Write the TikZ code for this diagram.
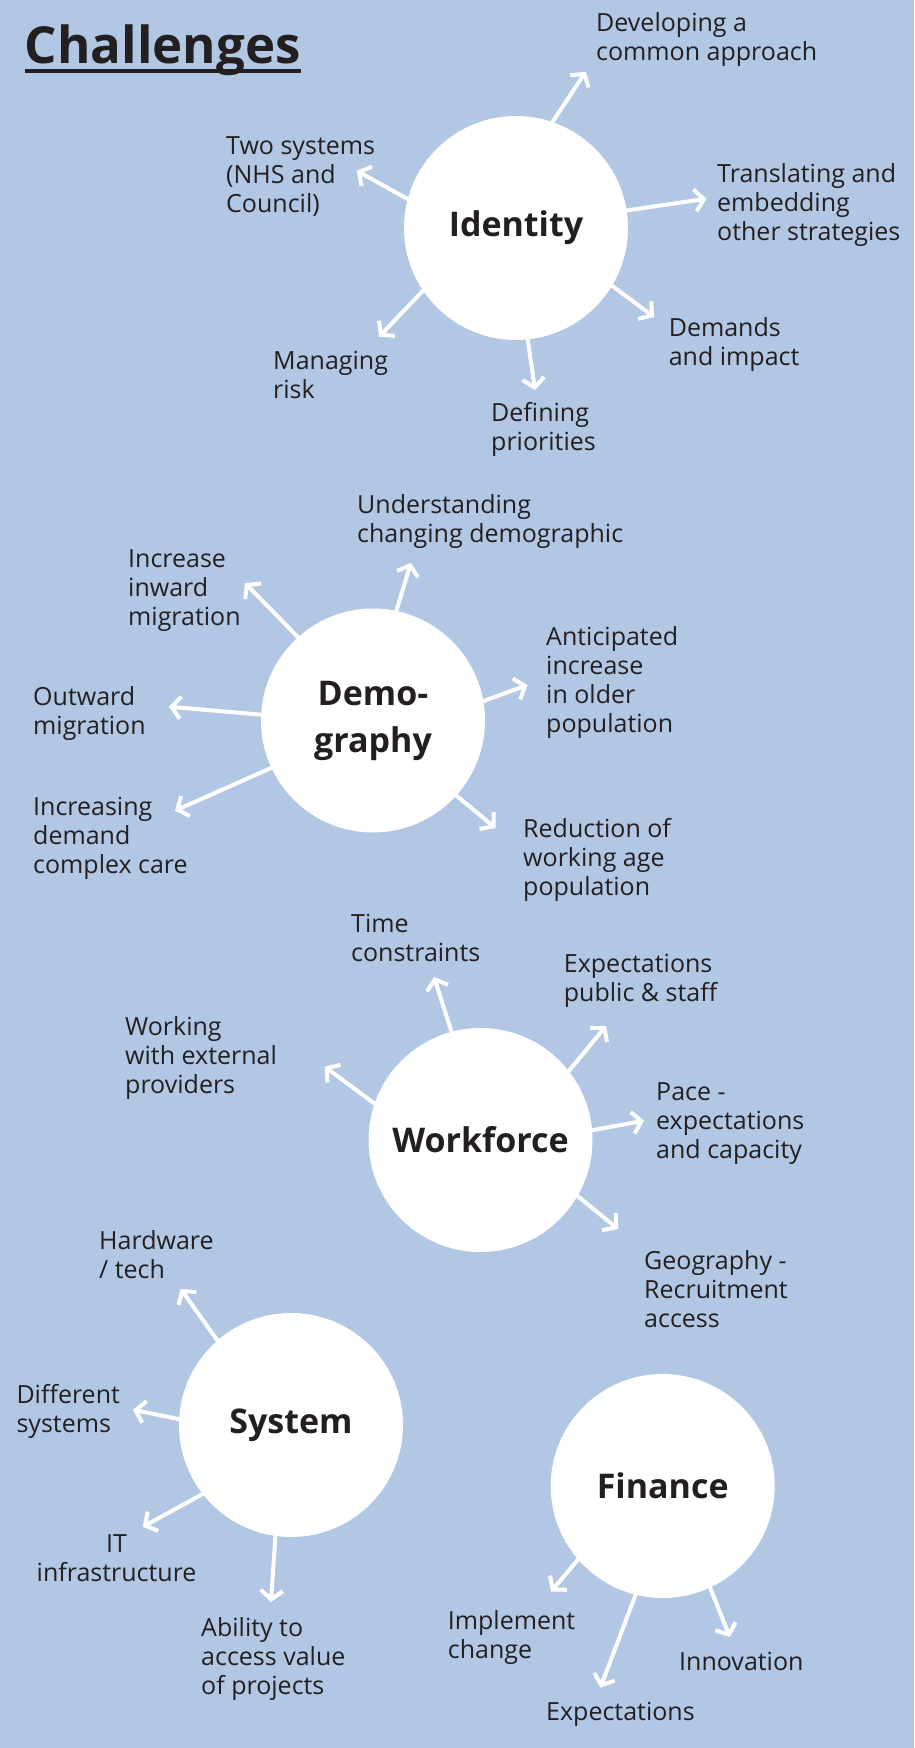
\documentclass[tikz,border=0pt]{standalone}
\usepackage{fontspec}
\setmainfont{Open Sans}
\usetikzlibrary{arrows.meta}
\definecolor{bgblue}{RGB}{178,199,228}
\definecolor{ink}{RGB}{35,31,32}
\begin{document}
\begin{tikzpicture}[x=1pt,y=-1pt,line cap=round,line join=round,
	circ/.style={circle,fill=white,minimum size=224pt,inner sep=0pt,text=ink,align=center,font=\fontsize{34}{47}\selectfont\bfseries},
	lbl/.style={anchor=base west,align=left,inner sep=0pt,text=ink,font=\fontsize{25}{29}\selectfont},
	arr/.style={white,line width=4pt,-{Straight Barb[length=9pt,width=22pt]}}]
				\fill[bgblue] (0,0) rectangle (914,1748);
				\useasboundingbox (0,0) rectangle (914,1748);
				\node[lbl,font=\fontsize{51}{60}\selectfont\bfseries] (title) at (24.5,63.3) {Challenges};
				\draw[ink,line width=4pt,line cap=butt] ([yshift=-7.7pt]title.base west) -- ([yshift=-7.7pt]title.base east);
				% identity
				\node[circ] (id) at (516,228) {Identity};
				\node[lbl] (id1) at (596,60) {Developing a\\common approach};
				\node[lbl] (id2) at (226,212) {Two systems\\(NHS and\\Council)};
				\node[lbl] (id3) at (717,240) {Translating and\\embedding\\other strategies};
				\node[lbl] (id4) at (668.6,365) {Demands\\and impact};
				\node[lbl] (id5) at (491,450) {Defining\\priorities};
				\node[lbl] (id6) at (273,398) {Managing\\risk};
				\coordinate (ta1) at (585.8,71.7);
				\coordinate (ta2) at (356.7,170.7);
				\coordinate (ta3) at (706.5,198.7);
				\coordinate (ta4) at (654,317);
				\coordinate (ta5) at (535,390);
				\coordinate (ta6) at (379,336.7);
				\draw[arr] (id.71)--(ta1);
				\draw[arr] (id.165)--(ta2);
				\draw[arr] (id.9.7)--(ta3);
				\draw[arr] (id.-31)--(ta4);
				\draw[arr] (id.-84)--(ta5);
				\draw[arr] (id.-146.4)--(ta6);
				% demography
				\node[circ] (dm) at (373,720.5) {Demo-\\graphy};
				\node[lbl] (dm1) at (357,542.7) {Understanding\\changing demographic};
				\node[lbl] (dm2) at (128,625) {Increase\\inward\\migration};
				\node[lbl] (dm3) at (33,734) {Outward\\migration};
				\node[lbl] (dm4) at (33,873) {Increasing\\demand\\complex care};
				\node[lbl] (dm5) at (546,732) {Anticipated\\increase\\in older\\population};
				\node[lbl] (dm6) at (523,895) {Reduction of\\working age\\population};
				\coordinate (tb1) at (411,563);
				\coordinate (tb2) at (245,583);
				\coordinate (tb3) at (169,706.7);
				\coordinate (tb4) at (175,810.7);
				\coordinate (tb5) at (527.5,685);
				\coordinate (tb6) at (495.5,828);
				\draw[arr] (dm.78.2)--(tb1);
				\draw[arr] (dm.132.6)--(tb2);
				\draw[arr] (dm.177.7)--(tb3);
				\draw[arr] (dm.205.2)--(tb4);
				\draw[arr] (dm.10.5)--(tb5);
				\draw[arr] (dm.-42.5)--(tb6);
				% workforce
				\node[circ] (wf) at (480.5,1140) {Workforce};
				\node[lbl] (wf1) at (351,961.7) {Time\\constraints};
				\node[lbl] (wf2) at (563.7,1001.7) {Expectations\\public \& staff};
				\node[lbl] (wf3) at (125,1093) {Working\\with external\\providers};
				\node[lbl] (wf4) at (656,1158) {Pace -\\expectations\\and capacity};
				\node[lbl] (wf5) at (644,1327) {Geography -\\Recruitment\\access};
				\coordinate (tc1) at (434,977);
				\coordinate (tc2) at (606,1026);
				\coordinate (tc3) at (324.7,1066.7);
				\coordinate (tc4) at (644,1120.7);
				\coordinate (tc5) at (618,1229);
				\draw[arr] (wf.105.4)--(tc1);
				\draw[arr] (wf.38)--(tc2);
				\draw[arr] (wf.161.2)--(tc3);
				\draw[arr] (wf.5.1)--(tc4);
				\draw[arr] (wf.-30.9)--(tc5);
				% system
				\node[circ] (sy) at (291,1425) {System};
				\node[lbl] (sy1) at (99,1278.6) {Hardware\\/ tech};
				\node[lbl] (sy2) at (16.3,1432.4) {Different\\systems};
				\node[lbl,anchor=base,align=center] (sy3) at (116.6,1581) {IT\\infrastructure};
				\node[lbl] (sy4) at (201,1694.6) {Ability to\\access value\\of projects};
				\coordinate (td1) at (180.7,1289);
				\coordinate (td2) at (133,1409.7);
				\coordinate (td3) at (142.8,1526.8);
				\coordinate (td4) at (271,1602);
				\draw[arr] (sy.131)--(td1);
				\draw[arr] (sy.177.2)--(td2);
				\draw[arr] (sy.218.3)--(td3);
				\draw[arr] (sy.262.9)--(td4);
				% finance
				\node[circ] (fi) at (662.7,1486) {Finance};
				\node[lbl] (fi1) at (447.7,1658.6) {Implement\\change};
				\node[lbl] (fi2) at (546,1720.8) {Expectations};
				\node[lbl] (fi3) at (679,1670) {Innovation};
				\coordinate (te1) at (551,1591.5);
				\coordinate (te2) at (600.4,1687.6);
				\coordinate (te3) at (729.8,1637);
				\draw[arr] (fi.221)--(te1);
				\draw[arr] (fi.256)--(te2);
				\draw[arr] (fi.295.3)--(te3);
			\end{tikzpicture}
\end{document}
